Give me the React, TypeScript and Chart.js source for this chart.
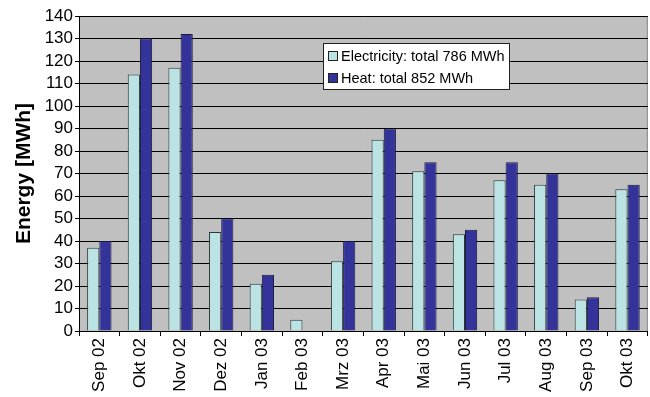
import React, { useEffect, useRef } from "react";
import { Chart, registerables } from "chart.js";

Chart.register(...registerables);

const categories = ["Sep 02", "Okt 02", "Nov 02", "Dez 02", "Jan 03", "Feb 03", "Mrz 03", "Apr 03", "Mai 03", "Jun 03", "Jul 03", "Aug 03", "Sep 03", "Okt 03"];
const electricity = [37, 114, 117, 44, 21, 5, 31, 85, 71, 43, 67, 65, 14, 63];
const heat = [40, 130, 132, 50, 25, 0, 40, 90, 75, 45, 75, 70, 15, 65];
const seriesLabels = ["Electricity: total 786 MWh", "Heat: total 852 MWh"];
const yAxisTitle = "Energy [MWh]";

const FONT = "'Liberation Sans', Arial, sans-serif";

const boxLegend = {
  id: "boxLegend",
  afterDraw(chart: any) {
    const { ctx, chartArea } = chart;
    const x = chartArea.left + 244;
    const y = chartArea.top + 27;
    const w = 186;
    const h = 46;
    ctx.save();
    ctx.fillStyle = "#ffffff";
    ctx.fillRect(x, y, w, h);
    ctx.strokeStyle = "#222222";
    ctx.lineWidth = 1;
    ctx.strokeRect(x + 0.5, y + 0.5, w, h);
    ctx.font = `14.5px ${FONT}`;
    ctx.textBaseline = "middle";
    chart.data.datasets.forEach((ds: any, i: number) => {
      const cy = y + 13 + i * 22;
      ctx.fillStyle = ds.backgroundColor;
      ctx.fillRect(x + 5, cy - 5, 9, 9);
      ctx.strokeStyle = "#222222";
      ctx.strokeRect(x + 5.5, cy - 4.5, 9, 9);
      ctx.fillStyle = "#000000";
      ctx.fillText(ds.label, x + 18, cy + 1);
    });
    ctx.restore();
  },
};

const plotBg = {
  id: "plotBg",
  beforeDraw(chart: any) {
    const { ctx, chartArea } = chart;
    ctx.save();
    ctx.fillStyle = "#c0c0c0";
    ctx.fillRect(chartArea.left, chartArea.top, chartArea.right - chartArea.left, chartArea.bottom - chartArea.top);
    ctx.strokeStyle = "#8a8a8a";
    ctx.lineWidth = 1;
    ctx.beginPath();
    ctx.moveTo(chartArea.right - 0.5, chartArea.top);
    ctx.lineTo(chartArea.right - 0.5, chartArea.bottom);
    ctx.stroke();
    ctx.restore();
  },
};

export default function App() {
  const ref = useRef<HTMLCanvasElement>(null);
  useEffect(() => {
    document.body.style.margin = "0";
    const chart = new Chart(ref.current!, {
      type: "bar",
      data: {
        labels: categories,
        datasets: [
          {
            label: seriesLabels[0],
            data: electricity,
            backgroundColor: "#bce3e3",
            borderColor: "#2a3a3a",
            borderWidth: 1,
            borderSkipped: "bottom",
          },
          {
            label: seriesLabels[1],
            data: heat,
            backgroundColor: "#333399",
            borderColor: "#1a1a40",
            borderWidth: 1,
            borderSkipped: "bottom",
          },
        ],
      },
      options: {
        animation: false,
        responsive: false,
        devicePixelRatio: 1,
        layout: { padding: { top: 16, right: 2, left: 12, bottom: 0 } },
        datasets: { bar: { categoryPercentage: 0.6, barPercentage: 1 } },
        plugins: {
          legend: { display: false },
          tooltip: { enabled: false },
        },
        scales: {
          x: {
            offset: true,
            grid: {
              display: true,
              offset: true,
              drawOnChartArea: false,
              drawTicks: true,
              tickLength: 5,
              color: "#000000",
            },
            border: { display: true, color: "#000000", width: 1 },
            ticks: {
              color: "#000000",
              font: { family: FONT, size: 17 },
              maxRotation: 90,
              minRotation: 90,
              padding: 2,
              autoSkip: false,
            },
            afterFit: (s: any) => {
              s.height = 66;
            },
          },
          y: {
            min: 0,
            max: 140,
            ticks: {
              stepSize: 10,
              autoSkip: false,
              color: "#000000",
              font: { family: FONT, size: 17 },
              padding: 2,
            },
            grid: {
              color: "#000000",
              lineWidth: 1,
              drawTicks: true,
              tickLength: 4,
            },
            border: { display: true, color: "#000000", width: 1 },
            title: {
              display: true,
              text: yAxisTitle,
              color: "#000000",
              font: { family: FONT, size: 21, weight: "bold" },
              padding: { top: 0, bottom: 3 },
            },
            afterFit: (s: any) => {
              s.width = 67;
            },
          },
        },
      },
      plugins: [plotBg, boxLegend],
    });
    return () => chart.destroy();
  }, []);
  return (
    <div style={{ width: 650, height: 397 }}>
      <canvas ref={ref} width={650} height={397} style={{ display: "block" }} />
    </div>
  );
}
